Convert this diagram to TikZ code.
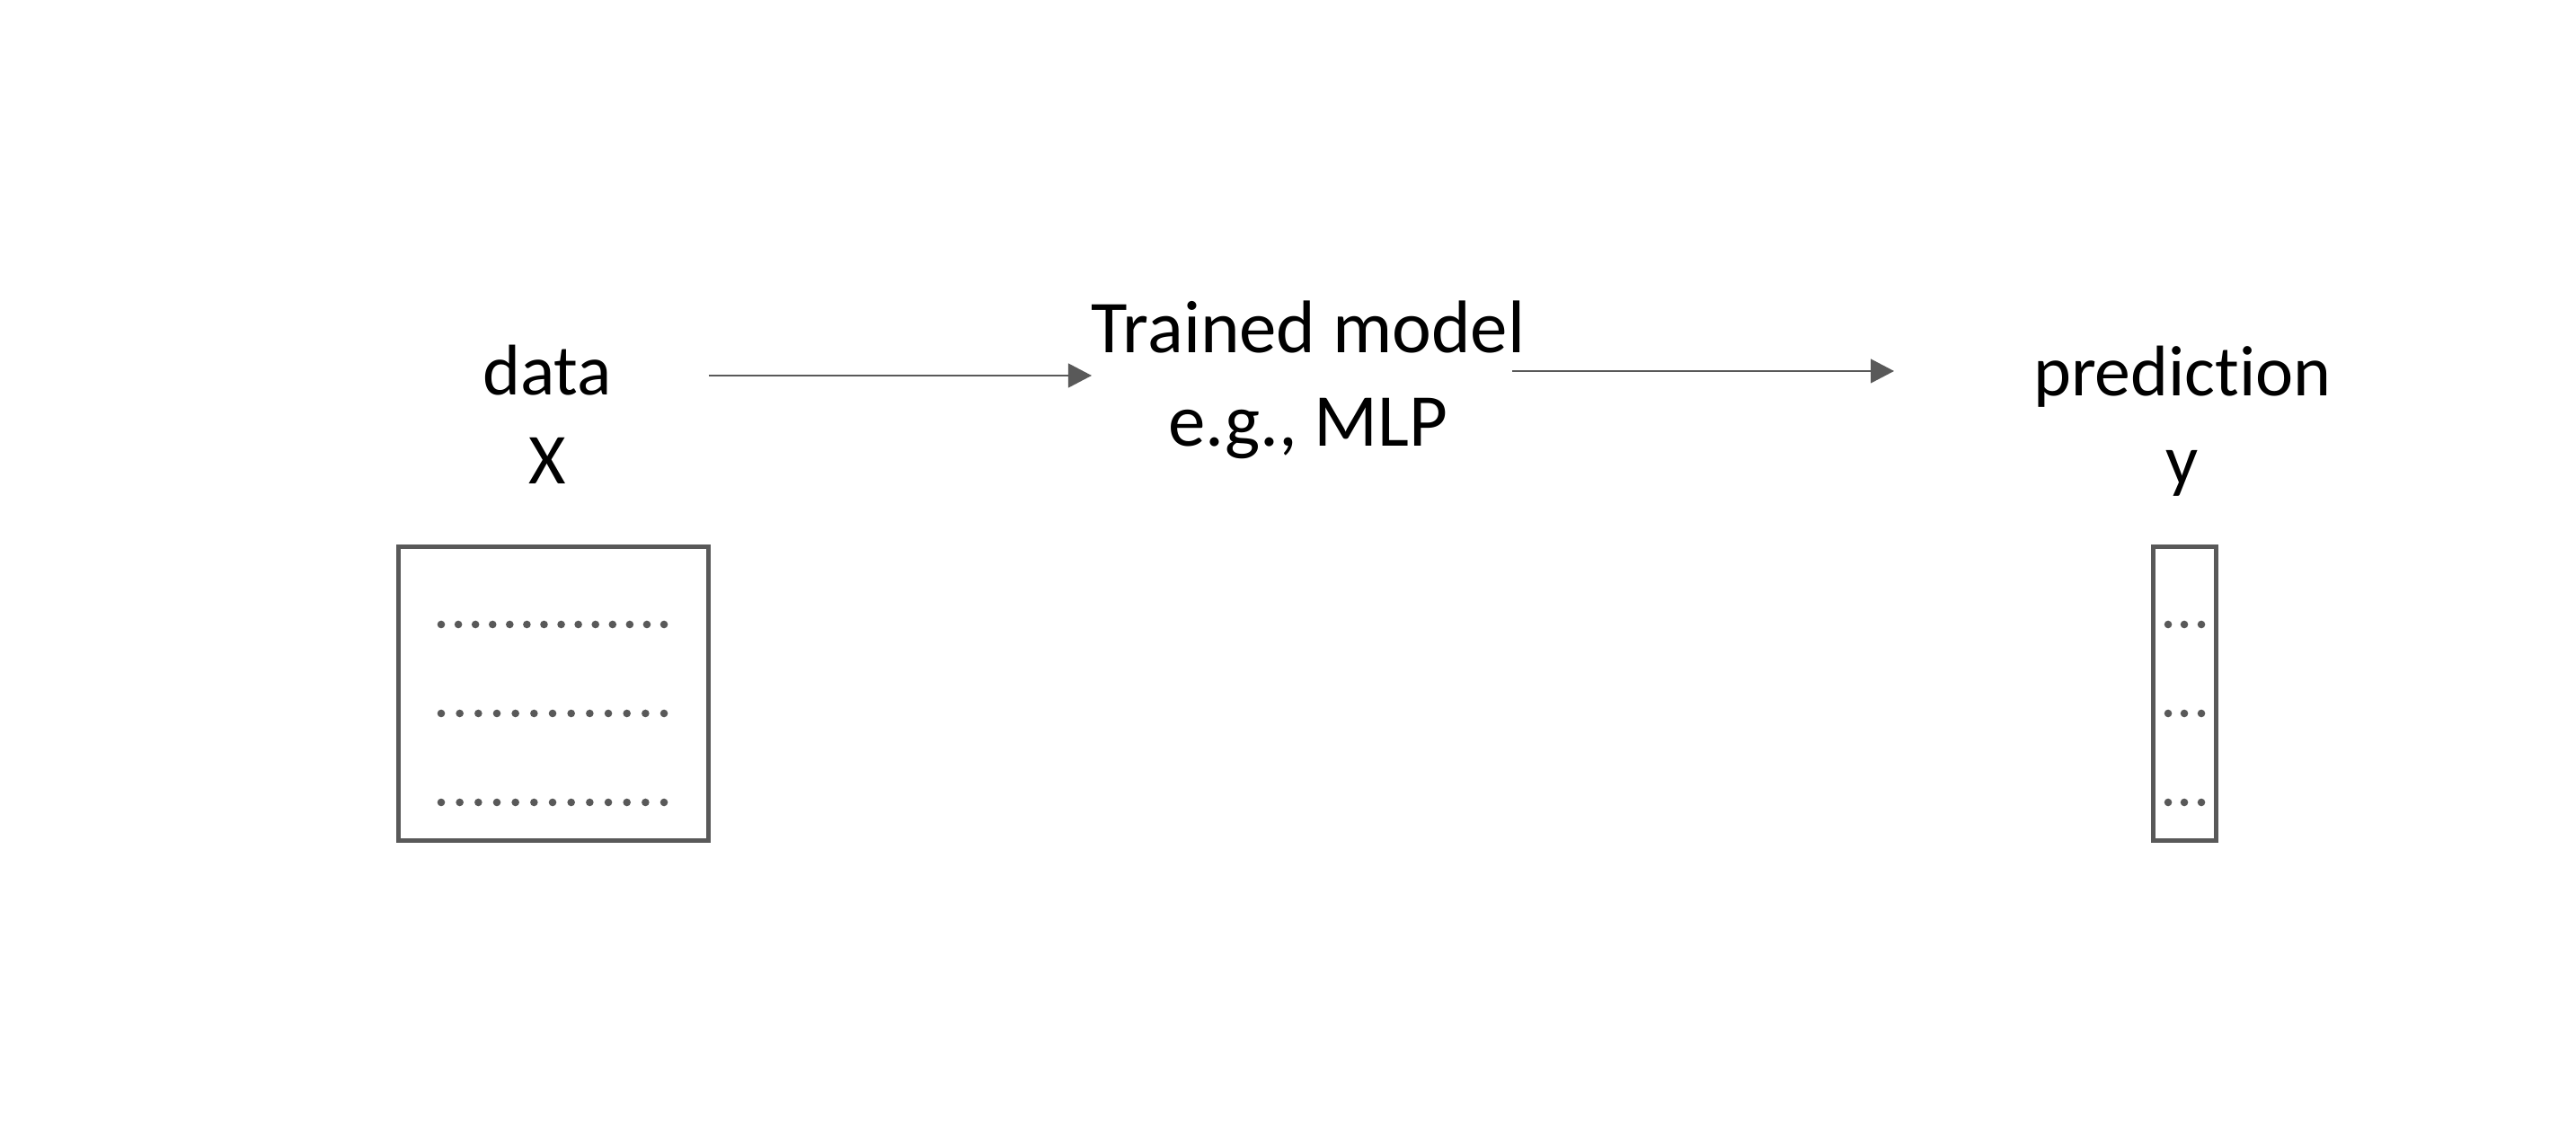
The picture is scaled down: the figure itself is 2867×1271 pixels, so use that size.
\documentclass[tikz,border=0pt]{standalone}
\usepackage{fontspec}
\setmainfont{Carlito}[Ligatures={NoCommon}]
\usetikzlibrary{arrows.meta}
\definecolor{linegray}{HTML}{595959}
\begin{document}
\begin{tikzpicture}[x=0.01cm, y=-0.01cm,
  label/.style={align=center, inner sep=0pt, font=\fontsize{22.7pt}{28.2pt}\selectfont},
  matbox/.style={draw=linegray, line width=1.42pt, inner sep=0pt, outer sep=0pt},
  flow/.style={draw=linegray, line width=0.6pt, -{Triangle[length=7.4pt, width=7.6pt]}},
  dot/.style={fill=linegray}]
\useasboundingbox (0,0) rectangle (2867,1271);

\node[label] (data) at (609,461) {data\\ X};
\node[label, font=\fontsize{23.6pt}{29.4pt}\selectfont] (model) at (1456,423) {Trained model\\ e.g., MLP};
\node[label] (pred) at (2429,469) {prediction\\ y};

\node[matbox, minimum width=3.45cm, minimum height=3.27cm] (xbox) at (616,772) {};
\node[matbox, minimum width=0.70cm, minimum height=3.27cm] (ybox) at (2431.5,772) {};

\foreach \x in {0,...,13} \fill[dot] (491+\x*19.08,695) circle[radius=0.043cm];
\foreach \y in {794,893}
  \foreach \x in {0,...,12} \fill[dot] (491+\x*20.67,\y) circle[radius=0.043cm];
\foreach \y in {695,794,893}
  \foreach \x in {2413,2431,2450} \fill[dot] (\x,\y) circle[radius=0.043cm];

\coordinate (inL) at (xbox.east |- 0,418);
\coordinate (inR) at ([xshift=0.01cm]model.west |- inL);
\draw[flow] (inL) -- (inR);

\coordinate (outL) at ([xshift=-0.15cm]model.east |- 0,413);
\coordinate (outR) at (2108,413);
\draw[flow] (outL) -- (outR);

\end{tikzpicture}
\end{document}
